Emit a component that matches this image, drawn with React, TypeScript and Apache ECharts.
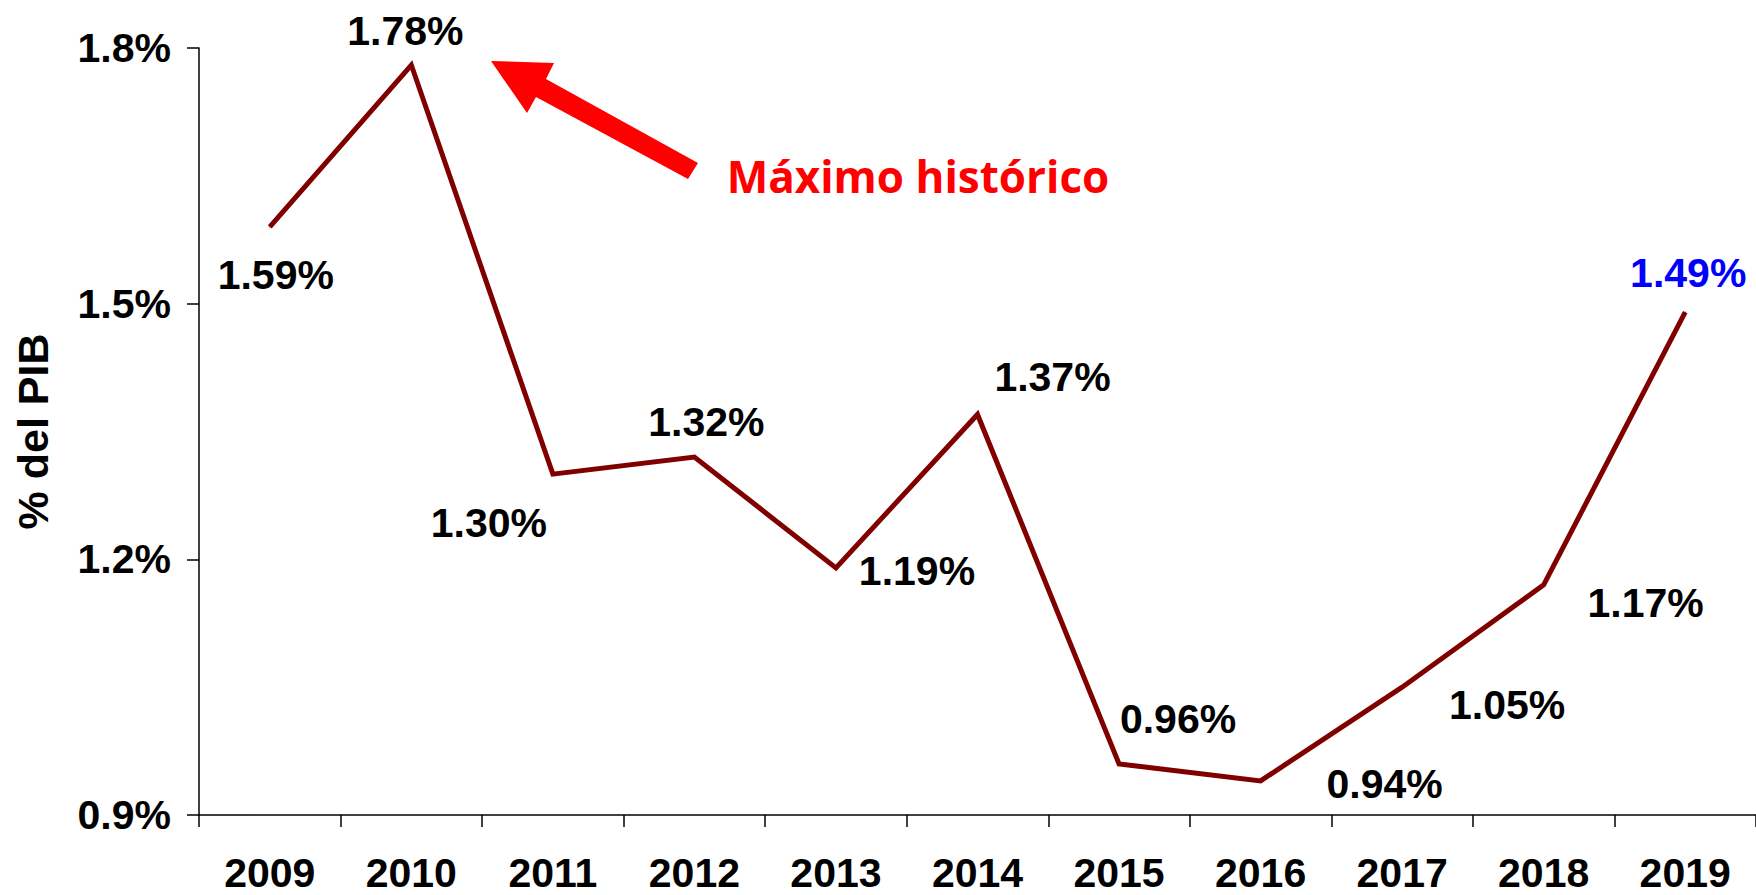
import React, { useEffect, useRef } from "react";
import * as echarts from "echarts";

const years = ["2009", "2010", "2011", "2012", "2013", "2014", "2015", "2016", "2017", "2018", "2019"];
const gastoPIB = [1.59, 1.78, 1.3, 1.32, 1.19, 1.37, 0.96, 0.94, 1.05, 1.17, 1.49];
const yMin = 0.9;
const yMax = 1.8;
const yStep = 0.3;
const yAxisTitle = "% del PIB";
const annotationText = "Máximo histórico";
// label centre offsets relative to each point (px)
const labelOffsets: [number, number][] = [
  [6, 48], [-6, -34], [-64, 49], [12, -35], [81, 3], [75, -37],
  [59, -45], [124, 3], [105, 18], [102, 18], [3, -39],
];
const highlightIndex = 10;

const FONT = "'Liberation Sans', Arial, sans-serif";

export default function App() {
  const ref = useRef<HTMLDivElement>(null);
  useEffect(() => {
    if (!ref.current) return;
    const chart = echarts.init(ref.current, undefined, { renderer: "svg" });
    chart.setOption({
      animation: false,
      backgroundColor: "#ffffff",
      grid: { left: 199, top: 48, bottom: 80, right: -4, containLabel: false },
      xAxis: {
        type: "category",
        data: years,
        boundaryGap: true,
        axisLine: { show: true, lineStyle: { color: "#000", width: 1.5 } },
        axisTick: { show: true, length: 12, lineStyle: { color: "#000", width: 1.5 } },
        axisLabel: {
          color: "#000",
          fontFamily: FONT,
          fontWeight: "bold",
          fontSize: 41,
          lineHeight: 40,
          margin: 38,
        },
      },
      yAxis: {
        type: "value",
        min: yMin,
        max: yMax,
        interval: yStep,
        name: yAxisTitle,
        nameLocation: "middle",
        nameRotate: 90,
        nameGap: 145,
        nameTextStyle: { color: "#000", fontFamily: FONT, fontWeight: "bold", fontSize: 43 },
        axisLine: { show: true, lineStyle: { color: "#000", width: 1.5 } },
        axisTick: { show: true, length: 12, lineStyle: { color: "#000", width: 1.5 } },
        splitLine: { show: false },
        axisLabel: {
          color: "#000",
          fontFamily: FONT,
          fontWeight: "bold",
          fontSize: 41,
          margin: 28,
          formatter: (v: number) => v.toFixed(1) + "%",
        },
      },
      series: [
        {
          type: "line",
          data: gastoPIB.map((v, i) => ({
            value: v,
            label: {
              offset: labelOffsets[i],
              color: i === highlightIndex ? "#0000FF" : "#000000",
            },
          })),
          symbol: "circle",
          symbolSize: 1,
          showSymbol: true,
          itemStyle: { color: "#800000" },
          lineStyle: { color: "#800000", width: 5, join: "miter", cap: "butt" },
          label: {
            show: true,
            position: "inside",
            fontFamily: FONT,
            fontWeight: "bold",
            fontSize: 41,
            formatter: (p: any) => Number(p.value).toFixed(2) + "%",
          },
          emphasis: { disabled: true },
        },
      ],
      graphic: [
        {
          type: "polygon",
          shape: {
            points: [
              [491, 61], [554, 63], [546, 79], [698, 163], [688, 179], [536, 97], [527, 113],
            ],
          },
          style: { fill: "#FF0000" },
        },
        {
          type: "text",
          x: 918,
          y: 176,
          style: {
            text: annotationText,
            fill: "#FF0000",
            font: "bold 44px 'Open Sans', sans-serif",
            align: "center",
            verticalAlign: "middle",
          },
        },
      ],
    });
    return () => chart.dispose();
  }, []);
  return (
    <div
      ref={ref}
      style={{ position: "fixed", left: 0, top: 0, width: 1756, height: 895, background: "#fff" }}
    />
  );
}
